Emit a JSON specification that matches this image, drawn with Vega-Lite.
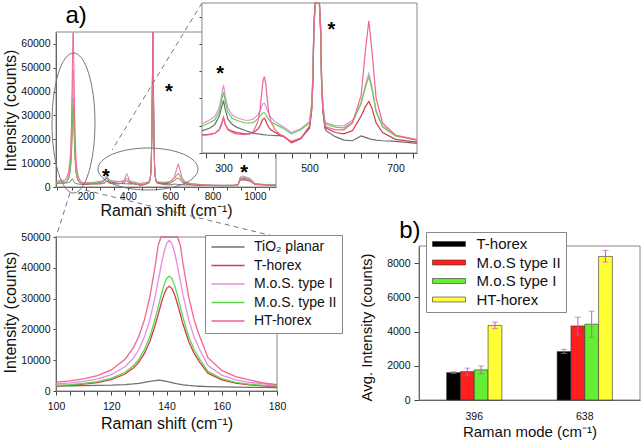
{
  "$schema": "https://vega.github.io/schema/vega-lite/v6.json",
  "width": 642,
  "height": 443,
  "autosize": "none",
  "padding": 0,
  "background": "white",
  "config": {
    "view": {"stroke": null},
    "font": "Liberation Sans",
    "axis": {"grid": false, "labelFont": "Liberation Sans", "titleFont": "Liberation Sans", "labelFontSize": 10.5, "titleFontWeight": "normal", "labelColor": "#111", "titleColor": "#111", "domainColor": "#444", "tickColor": "#444", "labelFlush": false, "labelOverlap": false},
    "legend": {"labelFont": "Liberation Sans", "labelColor": "#111"}
  },
  "datasets": {
    "spec": [
      {"s":60,"tio2":1500,"th":1400,"mi":1900,"mii":1600,"ht":2200},
      {"s":70,"tio2":1600,"th":1600,"mi":2100,"mii":1800,"ht":2500},
      {"s":80,"tio2":1700,"th":1800,"mi":2400,"mii":2000,"ht":2900},
      {"s":90,"tio2":1700,"th":1700,"mi":2300,"mii":1900,"ht":2800},
      {"s":100,"tio2":1700,"th":1610,"mi":2270,"mii":1790,"ht":2860},
      {"s":105,"tio2":1700,"th":1850,"mi":2610,"mii":2050,"ht":3310},
      {"s":110,"tio2":1750,"th":2200,"mi":3110,"mii":2430,"ht":3970},
      {"s":115,"tio2":1800,"th":2750,"mi":3910,"mii":3040,"ht":5030},
      {"s":120,"tio2":1900,"th":3700,"mi":5280,"mii":4080,"ht":6850},
      {"s":125,"tio2":2100,"th":5510,"mi":7890,"mii":6070,"ht":10320},
      {"s":128,"tio2":2300,"th":7440,"mi":10660,"mii":8180,"ht":14000},
      {"s":130,"tio2":2500,"th":9400,"mi":13480,"mii":10330,"ht":17750},
      {"s":132,"tio2":2800,"th":12190,"mi":17500,"mii":13390,"ht":23080},
      {"s":134,"tio2":3100,"th":16170,"mi":23230,"mii":17750,"ht":30700},
      {"s":136,"tio2":3400,"th":21650,"mi":31120,"mii":23760,"ht":41180},
      {"s":137,"tio2":3500,"th":24870,"mi":35760,"mii":27290,"ht":47340},
      {"s":138,"tio2":3450,"th":28160,"mi":40490,"mii":30890,"ht":53620},
      {"s":139,"tio2":3300,"th":31110,"mi":44740,"mii":34130,"ht":59280},
      {"s":140,"tio2":3100,"th":33240,"mi":47800,"mii":36460,"ht":63340},
      {"s":141,"tio2":2900,"th":34000,"mi":48900,"mii":37300,"ht":64800},
      {"s":142,"tio2":2700,"th":33240,"mi":47800,"mii":36460,"ht":63340},
      {"s":143,"tio2":2500,"th":31110,"mi":44740,"mii":34130,"ht":59280},
      {"s":144,"tio2":2300,"th":28160,"mi":40490,"mii":30890,"ht":53620},
      {"s":145,"tio2":2150,"th":24870,"mi":35760,"mii":27290,"ht":47340},
      {"s":146,"tio2":2000,"th":21650,"mi":31120,"mii":23760,"ht":41180},
      {"s":148,"tio2":1800,"th":16170,"mi":23230,"mii":17750,"ht":30700},
      {"s":150,"tio2":1650,"th":12190,"mi":17500,"mii":13390,"ht":23080},
      {"s":152,"tio2":1550,"th":9400,"mi":13480,"mii":10330,"ht":17750},
      {"s":155,"tio2":1450,"th":5780,"mi":8270,"mii":6360,"ht":10830},
      {"s":160,"tio2":1350,"th":3620,"mi":5160,"mii":3990,"ht":6700},
      {"s":165,"tio2":1250,"th":2560,"mi":3630,"mii":2830,"ht":4670},
      {"s":170,"tio2":1200,"th":2000,"mi":2820,"mii":2210,"ht":3590},
      {"s":175,"tio2":1150,"th":1660,"mi":2340,"mii":1850,"ht":2600},
      {"s":180,"tio2":1100,"th":1430,"mi":1800,"mii":1590,"ht":2100},
      {"s":190,"tio2":1050,"th":1300,"mi":1750,"mii":1500,"ht":1900},
      {"s":200,"tio2":1100,"th":1250,"mi":1800,"mii":1600,"ht":1750},
      {"s":220,"tio2":1300,"th":1250,"mi":1900,"mii":1700,"ht":1500},
      {"s":240,"tio2":1500,"th":1280,"mi":2000,"mii":1850,"ht":1350},
      {"s":250,"tio2":1620,"th":1310,"mi":2150,"mii":1960,"ht":1300},
      {"s":270,"tio2":1850,"th":1380,"mi":2450,"mii":2250,"ht":1350},
      {"s":280,"tio2":2100,"th":1450,"mi":2700,"mii":2450,"ht":1450},
      {"s":290,"tio2":2700,"th":1700,"mi":3300,"mii":3000,"ht":1700},
      {"s":296,"tio2":3400,"th":2150,"mi":4300,"mii":3900,"ht":2200},
      {"s":300,"tio2":3850,"th":2600,"mi":5000,"mii":4460,"ht":2600},
      {"s":304,"tio2":3200,"th":2100,"mi":4200,"mii":3800,"ht":2100},
      {"s":310,"tio2":2500,"th":1750,"mi":3300,"mii":3000,"ht":1700},
      {"s":320,"tio2":2100,"th":1600,"mi":2800,"mii":2550,"ht":1500},
      {"s":330,"tio2":1900,"th":1500,"mi":2600,"mii":2400,"ht":1400},
      {"s":350,"tio2":1650,"th":1400,"mi":2400,"mii":2200,"ht":1350},
      {"s":360,"tio2":1550,"th":1400,"mi":2400,"mii":2200,"ht":1400},
      {"s":370,"tio2":1450,"th":1500,"mi":2500,"mii":2250,"ht":1600},
      {"s":380,"tio2":1400,"th":1750,"mi":2800,"mii":2500,"ht":2300},
      {"s":385,"tio2":1380,"th":2000,"mi":3100,"mii":2700,"ht":3200},
      {"s":390,"tio2":1350,"th":2400,"mi":3500,"mii":2900,"ht":4800},
      {"s":392,"tio2":1350,"th":2500,"mi":3600,"mii":2950,"ht":5300},
      {"s":395,"tio2":1340,"th":2550,"mi":3650,"mii":2950,"ht":5600},
      {"s":398,"tio2":1330,"th":2400,"mi":3500,"mii":2850,"ht":5100},
      {"s":400,"tio2":1320,"th":2200,"mi":3300,"mii":2700,"ht":4500},
      {"s":405,"tio2":1300,"th":1900,"mi":2900,"mii":2450,"ht":3000},
      {"s":410,"tio2":1300,"th":1700,"mi":2600,"mii":2300,"ht":2300},
      {"s":420,"tio2":1280,"th":1500,"mi":2300,"mii":2100,"ht":1700},
      {"s":430,"tio2":1280,"th":1350,"mi":2100,"mii":1950,"ht":1400},
      {"s":440,"tio2":1200,"th":1250,"mi":1900,"mii":1800,"ht":1200},
      {"s":458,"tio2":800,"th":750,"mi":1500,"mii":1400,"ht":850},
      {"s":480,"tio2":1100,"th":1050,"mi":1800,"mii":1700,"ht":1100},
      {"s":500,"tio2":1800,"th":1900,"mi":2300,"mii":2200,"ht":2000},
      {"s":505,"tio2":3100,"th":3200,"mi":3600,"mii":3500,"ht":3300},
      {"s":508,"tio2":5300,"th":5400,"mi":5800,"mii":5700,"ht":5500},
      {"s":510,"tio2":8800,"th":8900,"mi":9300,"mii":9200,"ht":9000},
      {"s":513,"tio2":20800,"th":20900,"mi":21300,"mii":21200,"ht":21000},
      {"s":516,"tio2":45800,"th":45900,"mi":46300,"mii":46200,"ht":46000},
      {"s":518,"tio2":65000,"th":65000,"mi":65000,"mii":65000,"ht":65000},
      {"s":520,"tio2":45800,"th":45900,"mi":46300,"mii":46200,"ht":46000},
      {"s":523,"tio2":20800,"th":20900,"mi":21300,"mii":21200,"ht":21000},
      {"s":526,"tio2":8800,"th":8900,"mi":9300,"mii":9200,"ht":9000},
      {"s":528,"tio2":5300,"th":5400,"mi":5800,"mii":5700,"ht":5500},
      {"s":531,"tio2":3100,"th":3200,"mi":3600,"mii":3500,"ht":3300},
      {"s":536,"tio2":1800,"th":1900,"mi":2300,"mii":2200,"ht":2000},
      {"s":540,"tio2":1600,"th":1800,"mi":2200,"mii":2100,"ht":1900},
      {"s":560,"tio2":1200,"th":1500,"mi":2000,"mii":1900,"ht":1700},
      {"s":580,"tio2":950,"th":1400,"mi":2000,"mii":1850,"ht":1700},
      {"s":600,"tio2":900,"th":1650,"mi":2400,"mii":2250,"ht":2200},
      {"s":620,"tio2":1250,"th":2700,"mi":3700,"mii":3600,"ht":4200},
      {"s":630,"tio2":1150,"th":3400,"mi":5000,"mii":4800,"ht":7500},
      {"s":638,"tio2":1050,"th":3780,"mi":5850,"mii":5600,"ht":9700},
      {"s":645,"tio2":1000,"th":3300,"mi":4900,"mii":4700,"ht":7600},
      {"s":655,"tio2":950,"th":2200,"mi":3100,"mii":3000,"ht":4000},
      {"s":670,"tio2":900,"th":1500,"mi":2000,"mii":1900,"ht":2200},
      {"s":700,"tio2":850,"th":1000,"mi":1300,"mii":1250,"ht":1300},
      {"s":750,"tio2":700,"th":800,"mi":1000,"mii":950,"ht":950},
      {"s":800,"tio2":600,"th":600,"mi":800,"mii":750,"ht":700},
      {"s":850,"tio2":550,"th":550,"mi":750,"mii":700,"ht":650},
      {"s":900,"tio2":600,"th":600,"mi":800,"mii":750,"ht":700},
      {"s":920,"tio2":750,"th":800,"mi":1000,"mii":950,"ht":900},
      {"s":930,"tio2":3300,"th":2700,"mi":4200,"mii":3800,"ht":3000},
      {"s":940,"tio2":3700,"th":3000,"mi":4600,"mii":4200,"ht":3300},
      {"s":960,"tio2":3400,"th":2800,"mi":4200,"mii":3900,"ht":3100},
      {"s":980,"tio2":2800,"th":2300,"mi":3500,"mii":3200,"ht":2600},
      {"s":1000,"tio2":1200,"th":1000,"mi":1500,"mii":1400,"ht":1200},
      {"s":1050,"tio2":900,"th":800,"mi":1000,"mii":950,"ht":900},
      {"s":1100,"tio2":750,"th":700,"mi":900,"mii":850,"ht":800}
    ],
    "bars": [
      {"mode":"396","series":"T-horex","value":1600,"lo":1560,"hi":1650},
      {"mode":"396","series":"M.o.S type II","value":1660,"lo":1460,"hi":1860},
      {"mode":"396","series":"M.o.S type I","value":1760,"lo":1530,"hi":1990},
      {"mode":"396","series":"HT-horex","value":4360,"lo":4170,"hi":4550},
      {"mode":"638","series":"T-horex","value":2830,"lo":2720,"hi":2960},
      {"mode":"638","series":"M.o.S type II","value":4330,"lo":3800,"hi":4840},
      {"mode":"638","series":"M.o.S type I","value":4430,"lo":3650,"hi":5190},
      {"mode":"638","series":"HT-horex","value":8390,"lo":8060,"hi":8740}
    ]
  },
  "layer": [
    {
      "layer": [
        {
          "data": {"name": "spec"},
          "transform": [{"fold": ["tio2", "th", "mi", "mii", "ht"], "as": ["series", "v"]}],
          "mark": {"type": "line", "strokeWidth": 1},
          "encoding": {
            "x": {"field": "s", "type": "quantitative", "scale": {"domain": [60, 1100], "range": [56, 276], "nice": false, "zero": false},
              "axis": {"orient": "bottom", "offset": -256, "values": [66.67,133.33,200,266.67,333.33,400,466.67,533.33,600,666.67,733.33,800,866.67,933.33,1000,1066.67], "labelExpr": "abs(datum.value % 200) < 0.5 ? format(datum.value, 'd') : ''", "tickSize": 3, "labelPadding": 1, "labelFontSize": 10, "title": "Raman shift (cm⁻¹)", "titleFontSize": 16, "titleY": 15}},
            "y": {"field": "v", "type": "quantitative", "scale": {"domain": [0, 65000], "range": [187, 32], "nice": false},
              "axis": {"orient": "left", "offset": -56, "values": [0,10000,20000,30000,40000,50000,60000], "format": "d", "tickSize": 3, "labelPadding": 3, "title": "Intensity (counts)", "titleFontSize": 16, "titleX": -38, "titleY": 110}},
            "color": {"field": "series", "type": "nominal", "scale": {"domain": ["tio2", "th", "mi", "mii", "ht"], "range": ["#6f6f6f", "#cf3b4f", "#e68ae6", "#5fd64a", "#f0668c"]}, "legend": null}
          }
        },
        {
          "data": {"values": [{}]},
          "mark": {"type": "rect", "fill": null, "fillOpacity": 0, "stroke": "#888", "strokeWidth": 1},
          "encoding": {"x": {"datum": 60}, "x2": {"datum": 1100}, "y": {"datum": 0}, "y2": {"datum": 65000}}
        },
        {
          "data": {"values": [{}]},
          "mark": {"type": "point", "shape": "M0,-1A0.307,1,0,1,1,0,1A0.307,1,0,1,1,0,-1Z", "size": 19600, "filled": false, "color": "#777", "opacity": 1, "strokeWidth": 1},
          "encoding": {"x": {"datum": 142.7}, "y": {"datum": 26830}}
        },
        {
          "data": {"values": [{}]},
          "mark": {"type": "point", "shape": "M-1,0A1,0.42,0,1,1,1,0A1,0.42,0,1,1,-1,0Z", "size": 10000, "filled": false, "color": "#777", "opacity": 1, "strokeWidth": 1},
          "encoding": {"x": {"datum": 495}, "y": {"datum": 7550}}
        },
        {
          "data": {"values": [{}]},
          "mark": {"type": "rule", "strokeDash": [5, 4], "color": "#777", "strokeWidth": 1},
          "encoding": {"x": {"datum": 750}, "y": {"datum": 77150}, "x2": {"datum": 325}, "y2": {"datum": 15500}}
        },
        {
          "data": {"values": [{}]},
          "mark": {"type": "rule", "strokeDash": [5, 4], "color": "#777", "strokeWidth": 1},
          "encoding": {"x": {"datum": 126}, "y": {"datum": -2500}, "x2": {"datum": 60}, "y2": {"datum": -20960}}
        },
        {
          "data": {"values": [{}]},
          "mark": {"type": "rule", "strokeDash": [5, 4], "color": "#777", "strokeWidth": 1},
          "encoding": {"x": {"datum": 197}, "y": {"datum": -1260}, "x2": {"datum": 1105}, "y2": {"datum": -20960}}
        },
        {
          "data": {"values": [{"s": 296, "v": 6500}, {"s": 594, "v": 41900}, {"s": 949, "v": 7760}]},
          "mark": {"type": "text", "text": "*", "fontSize": 20, "fontWeight": "bold", "align": "center", "baseline": "alphabetic", "dy": 11, "color": "#000"},
          "encoding": {"x": {"field": "s", "type": "quantitative"}, "y": {"field": "v", "type": "quantitative"}}
        },
        {
          "data": {"values": [{}]},
          "mark": {"type": "text", "text": "a)", "fontSize": 24, "align": "center", "baseline": "middle", "color": "#000"},
          "encoding": {"x": {"datum": 155}, "y": {"datum": 71700}}
        }
      ]
    },
    {
      "layer": [
        {
          "data": {"values": [{}]},
          "mark": {"type": "rect", "fill": "white", "stroke": "#888", "strokeWidth": 1},
          "encoding": {
            "x": {"datum": 250, "type": "quantitative", "scale": {"domain": [250, 750], "range": [202, 417], "nice": false, "zero": false}},
            "x2": {"datum": 750},
            "y": {"datum": 0, "type": "quantitative", "scale": {"domain": [0, 11000], "range": [153, 3], "nice": false, "clamp": true}},
            "y2": {"datum": 11000}
          }
        },
        {
          "data": {"name": "spec"},
          "transform": [{"filter": {"field": "s", "range": [250, 750]}}, {"fold": ["tio2", "th", "mi", "mii", "ht"], "as": ["series", "v"]}],
          "mark": {"type": "line", "strokeWidth": 1.2},
          "encoding": {
            "x": {"field": "s", "type": "quantitative",
              "axis": {"orient": "bottom", "offset": -290, "values": [260,280,300,320,340,360,380,400,420,440,460,480,500,520,540,560,580,600,620,640,660,680,700,720,740], "labelExpr": "datum.value % 100 === 0 ? format(datum.value, 'd') : ''", "tickSize": 5, "labelPadding": 5, "title": null}},
            "y": {"field": "v", "type": "quantitative",
              "axis": {"orient": "left", "offset": -202, "values": [0,2000,4000,6000,8000,10000], "labels": false, "tickSize": 3, "title": null, "domain": false}},
            "color": {"field": "series", "type": "nominal", "scale": {"domain": ["tio2", "th", "mi", "mii", "ht"], "range": ["#6f6f6f", "#cf3b4f", "#e68ae6", "#5fd64a", "#f0668c"]}, "legend": null}
          }
        },
        {
          "data": {"values": [{"s": 292, "v": 6160}, {"s": 551, "v": 9420}]},
          "mark": {"type": "text", "text": "*", "fontSize": 20, "fontWeight": "bold", "align": "center", "baseline": "alphabetic", "dy": 11, "color": "#000"},
          "encoding": {"x": {"field": "s", "type": "quantitative"}, "y": {"field": "v", "type": "quantitative"}}
        }
      ]
    },
    {
      "layer": [
        {
          "data": {"name": "spec"},
          "transform": [{"filter": {"field": "s", "range": [100, 180]}}, {"fold": ["tio2", "th", "mi", "mii", "ht"], "as": ["series", "v"]}],
          "mark": {"type": "line", "strokeWidth": 1.3},
          "encoding": {
            "x": {"field": "s", "type": "quantitative", "scale": {"domain": [100, 180], "range": [56, 277], "nice": false, "zero": false},
              "axis": {"orient": "bottom", "offset": -52, "values": [100,105,110,115,120,125,130,135,140,145,150,155,160,165,170,175,180], "labelExpr": "datum.value % 20 === 0 ? format(datum.value, 'd') : ''", "tickSize": 4, "labelPadding": 6, "title": "Raman shift (cm⁻¹)", "titleFontSize": 16, "titleY": 24}},
            "y": {"field": "v", "type": "quantitative", "scale": {"domain": [0, 50000], "range": [391, 237], "nice": false, "clamp": true},
              "axis": {"orient": "left", "offset": -56, "values": [0,10000,20000,30000,40000,50000], "format": "d", "tickSize": 3, "labelPadding": 3, "title": "Intensity (counts)", "titleFontSize": 16, "titleX": -38, "titleY": 312}},
            "color": {"field": "series", "type": "nominal", "scale": {"domain": ["tio2", "th", "mi", "mii", "ht"], "range": ["#6f6f6f", "#cf3b4f", "#e68ae6", "#5fd64a", "#f0668c"]},
              "legend": {"orient": "none", "legendX": 205, "legendY": 235, "title": null, "symbolType": "M-1,0L5,0", "symbolSize": 121, "symbolStrokeWidth": 1.5, "labelFontSize": 14, "labelOffset": 30, "padding": 5, "rowPadding": 4.5, "strokeColor": "#888", "fillColor": "white", "zindex": 1,
                "labelExpr": "datum.label === 'tio2' ? 'TiO₂ planar' : datum.label === 'th' ? 'T-horex' : datum.label === 'mi' ? 'M.o.S. type I' : datum.label === 'mii' ? 'M.o.S. type II' : 'HT-horex'"}}
          }
        },
        {
          "data": {"values": [{}]},
          "mark": {"type": "rect", "fill": null, "fillOpacity": 0, "stroke": "#888", "strokeWidth": 1},
          "encoding": {"x": {"datum": 100}, "x2": {"datum": 180}, "y": {"datum": 0}, "y2": {"datum": 50000}}
        }
      ]
    },
    {
      "data": {"values": [{}]},
      "layer": [
        {
          "mark": {"type": "rect", "fill": null, "fillOpacity": 0, "stroke": "#888", "strokeWidth": 1},
          "encoding": {
            "x": {"datum": 0, "type": "quantitative", "scale": {"domain": [0, 1], "range": [419, 640], "nice": false, "zero": false}, "axis": null},
            "x2": {"datum": 1},
            "y": {"datum": 0, "type": "quantitative", "scale": {"domain": [0, 1], "range": [400, 246], "nice": false}, "axis": null},
            "y2": {"datum": 1}
          }
        },
        {
          "mark": {"type": "text", "text": "b)", "fontSize": 24, "align": "center", "baseline": "middle", "color": "#000"},
          "encoding": {"x": {"datum": -0.041, "axis": null}, "y": {"datum": 1.097, "axis": null}}
        }
      ]
    },
    {
      "data": {"name": "bars"},
      "layer": [
        {
          "mark": {"type": "bar", "stroke": "#333", "strokeWidth": 0.6},
          "encoding": {
            "x": {"field": "mode", "type": "nominal", "scale": {"type": "band", "domain": ["396", "638"], "range": [419, 640], "paddingInner": 0.5, "paddingOuter": 0.25},
              "axis": {"orient": "bottom", "offset": -43, "labelAngle": 0, "ticks": false, "labelPadding": 11, "title": "Raman mode (cm⁻¹)", "titleFontSize": 15, "titleY": 24}},
            "xOffset": {"field": "series", "type": "nominal", "scale": {"domain": ["T-horex", "M.o.S type II", "M.o.S type I", "HT-horex"], "paddingInner": 0, "paddingOuter": 0}},
            "y": {"field": "value", "type": "quantitative", "scale": {"domain": [0, 9000], "range": [400, 246], "nice": false},
              "axis": {"orient": "left", "offset": -419, "values": [0, 2000, 4000, 6000, 8000], "format": "d", "tickSize": 5, "labelPadding": 4, "title": "Avg. Intensity (counts)", "titleFontSize": 15, "titleX": -45, "titleY": 327}},
            "color": {"field": "series", "type": "nominal", "scale": {"domain": ["T-horex", "M.o.S type II", "M.o.S type I", "HT-horex"], "range": ["#000000", "#ff1f1f", "#66ee33", "#ffff33"]},
              "legend": {"orient": "none", "legendX": 426, "legendY": 232, "title": null, "symbolType": "M-1,-0.45L5,-0.45L5,0.45L-1,0.45Z", "symbolSize": 121, "symbolStrokeColor": "#333", "symbolStrokeWidth": 0.6, "labelFontSize": 15, "labelOffset": 31, "padding": 4.5, "rowPadding": 2.5, "strokeColor": "#888", "fillColor": "white", "zindex": 1}}
          }
        },
        {
          "mark": {"type": "rule", "color": "#cc55cc", "strokeWidth": 1},
          "encoding": {
            "x": {"field": "mode", "type": "nominal"},
            "xOffset": {"field": "series", "type": "nominal"},
            "y": {"field": "lo", "type": "quantitative"},
            "y2": {"field": "hi"}
          }
        },
        {
          "mark": {"type": "tick", "color": "#cc55cc", "thickness": 1, "size": 6},
          "encoding": {
            "x": {"field": "mode", "type": "nominal"},
            "xOffset": {"field": "series", "type": "nominal"},
            "y": {"field": "lo", "type": "quantitative"}
          }
        },
        {
          "mark": {"type": "tick", "color": "#cc55cc", "thickness": 1, "size": 6},
          "encoding": {
            "x": {"field": "mode", "type": "nominal"},
            "xOffset": {"field": "series", "type": "nominal"},
            "y": {"field": "hi", "type": "quantitative"}
          }
        }
      ]
    }
  ],
  "resolve": {
    "scale": {"x": "independent", "y": "independent", "color": "independent", "xOffset": "independent"},
    "axis": {"x": "independent", "y": "independent"},
    "legend": {"color": "independent"}
  }
}
